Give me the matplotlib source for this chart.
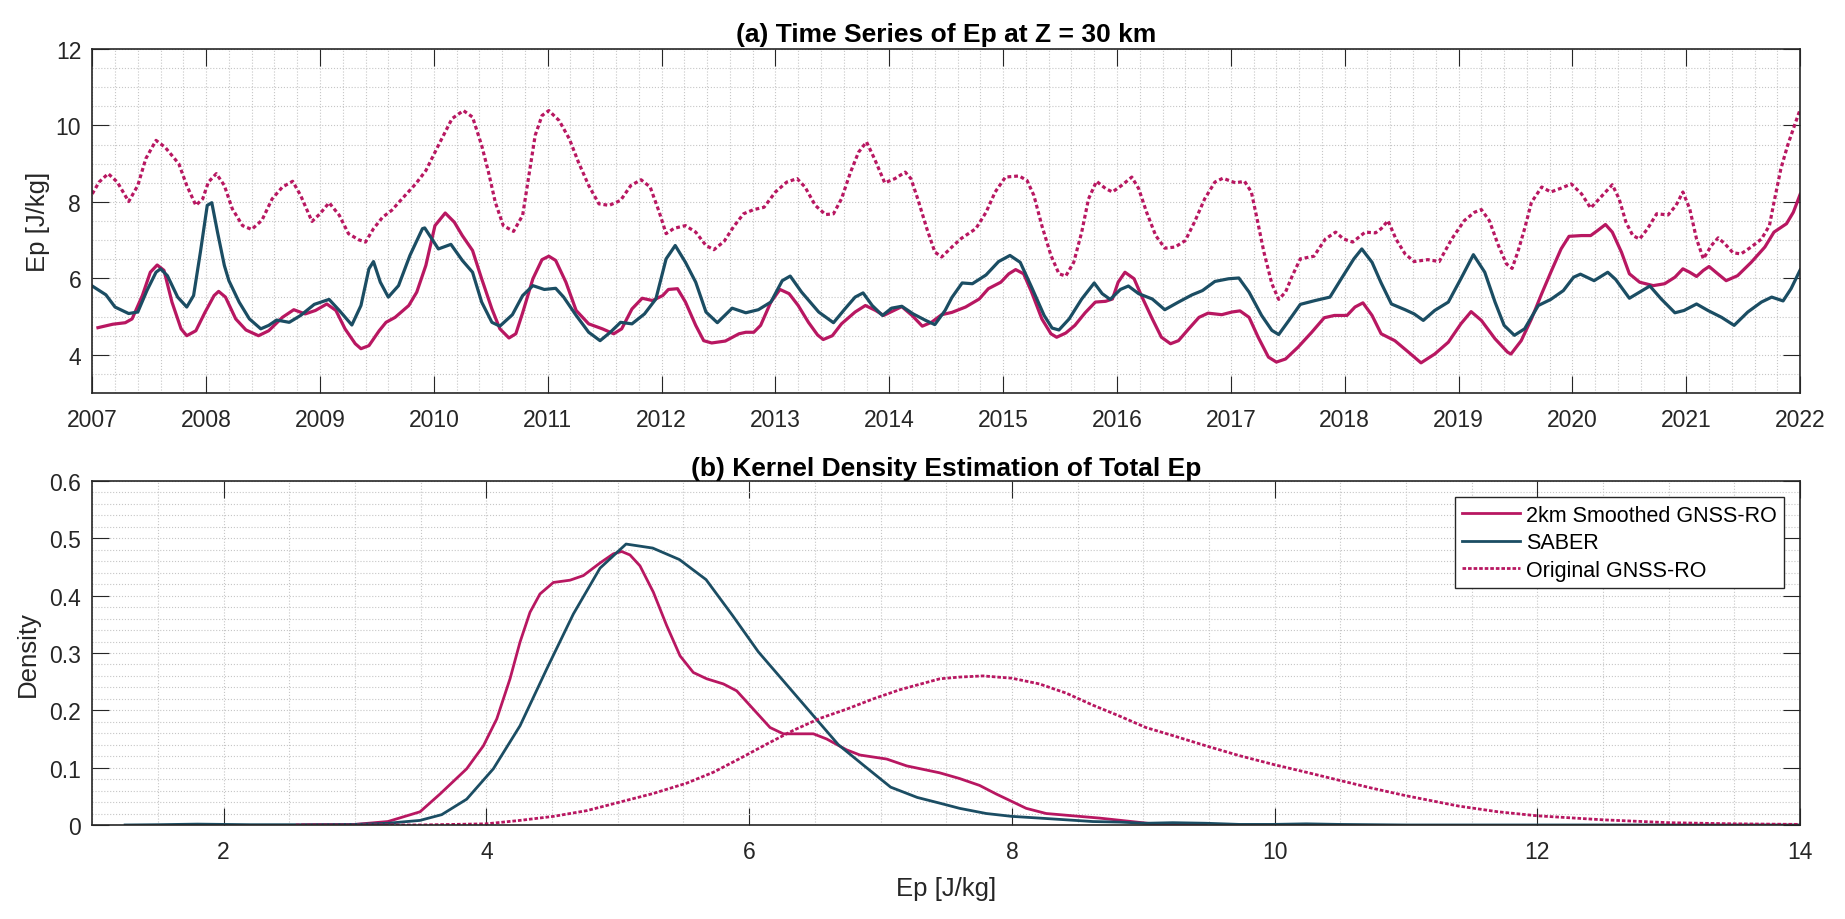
import matplotlib
matplotlib.use('Agg')
import matplotlib.pyplot as plt
from matplotlib.ticker import MultipleLocator, FuncFormatter

plt.rcParams['font.family'] = ['Liberation Sans', 'DejaVu Sans']

# (a) time series at Z = 30 km, decimal years
smooth_t = [2007.05, 2007.18, 2007.29, 2007.35, 2007.44, 2007.51, 2007.57, 2007.63, 2007.70, 2007.78,
            2007.83, 2007.91, 2007.99, 2008.07, 2008.11, 2008.17, 2008.26, 2008.35, 2008.46, 2008.55,
            2008.67, 2008.77, 2008.87, 2008.96, 2009.06, 2009.14, 2009.22, 2009.31, 2009.36, 2009.43,
            2009.52, 2009.58, 2009.66, 2009.78, 2009.85, 2009.93, 2010.01, 2010.10, 2010.18, 2010.25,
            2010.34, 2010.42, 2010.51, 2010.58, 2010.66, 2010.72, 2010.78, 2010.87, 2010.95, 2011.01,
            2011.07, 2011.16, 2011.25, 2011.36, 2011.48, 2011.58, 2011.65, 2011.74, 2011.83, 2011.92,
            2012.01, 2012.06, 2012.14, 2012.21, 2012.30, 2012.37, 2012.44, 2012.56, 2012.68, 2012.74,
            2012.81, 2012.87, 2012.96, 2013.04, 2013.12, 2013.20, 2013.29, 2013.37, 2013.42, 2013.50,
            2013.58, 2013.70, 2013.79, 2013.88, 2013.95, 2014.02, 2014.11, 2014.20, 2014.29, 2014.37,
            2014.46, 2014.55, 2014.67, 2014.79, 2014.87, 2014.98, 2015.05, 2015.11, 2015.18, 2015.25,
            2015.34, 2015.42, 2015.47, 2015.55, 2015.63, 2015.72, 2015.81, 2015.90, 2015.96, 2016.01,
            2016.07, 2016.15, 2016.22, 2016.31, 2016.39, 2016.47, 2016.54, 2016.63, 2016.72, 2016.80,
            2016.92, 2017.01, 2017.08, 2017.16, 2017.24, 2017.33, 2017.40, 2017.48, 2017.59, 2017.71,
            2017.82, 2017.91, 2018.02, 2018.09, 2018.16, 2018.24, 2018.32, 2018.44, 2018.56, 2018.67,
            2018.79, 2018.91, 2019.02, 2019.11, 2019.20, 2019.32, 2019.43, 2019.46, 2019.55, 2019.64,
            2019.73, 2019.81, 2019.90, 2019.97, 2020.08, 2020.16, 2020.22, 2020.29, 2020.35, 2020.43,
            2020.50, 2020.59, 2020.71, 2020.81, 2020.90, 2020.97, 2021.03, 2021.09, 2021.15, 2021.20,
            2021.26, 2021.35, 2021.45, 2021.57, 2021.69, 2021.77, 2021.88, 2021.94, 2022.00]
smooth_ep = [4.71, 4.80, 4.84, 4.94, 5.55, 6.16, 6.35, 6.21, 5.38, 4.68,
             4.50, 4.63, 5.11, 5.55, 5.66, 5.51, 4.94, 4.65, 4.50, 4.63,
             4.98, 5.18, 5.07, 5.16, 5.33, 5.16, 4.68, 4.29, 4.16, 4.24,
             4.63, 4.85, 4.98, 5.29, 5.64, 6.34, 7.38, 7.71, 7.47, 7.12,
             6.73, 5.99, 5.20, 4.68, 4.44, 4.55, 5.10, 5.99, 6.49, 6.58,
             6.47, 5.90, 5.16, 4.81, 4.68, 4.55, 4.68, 5.20, 5.48, 5.42,
             5.55, 5.71, 5.73, 5.38, 4.77, 4.37, 4.31, 4.36, 4.55, 4.59,
             4.59, 4.77, 5.38, 5.71, 5.60, 5.29, 4.85, 4.52, 4.40, 4.50,
             4.81, 5.12, 5.29, 5.16, 5.03, 5.13, 5.26, 5.03, 4.75, 4.85,
             5.05, 5.11, 5.25, 5.46, 5.73, 5.90, 6.12, 6.23, 6.12, 5.64,
             4.94, 4.55, 4.46, 4.57, 4.77, 5.10, 5.38, 5.40, 5.46, 5.90,
             6.16, 5.99, 5.51, 4.94, 4.46, 4.29, 4.37, 4.68, 4.98, 5.09,
             5.05, 5.12, 5.15, 4.98, 4.46, 3.94, 3.81, 3.89, 4.20, 4.59,
             4.97, 5.03, 5.03, 5.25, 5.36, 5.03, 4.55, 4.37, 4.07, 3.79,
             4.02, 4.33, 4.81, 5.13, 4.90, 4.42, 4.07, 4.02, 4.37, 4.94,
             5.60, 6.16, 6.77, 7.10, 7.12, 7.12, 7.25, 7.41, 7.21, 6.69,
             6.12, 5.90, 5.81, 5.86, 6.03, 6.25, 6.16, 6.05, 6.21, 6.31,
             6.16, 5.94, 6.07, 6.42, 6.82, 7.21, 7.43, 7.73, 8.20]

saber_t = [2007.00, 2007.12, 2007.20, 2007.32, 2007.40, 2007.48, 2007.56, 2007.60, 2007.66, 2007.75,
           2007.83, 2007.89, 2007.95, 2008.01, 2008.05, 2008.10, 2008.16, 2008.20, 2008.29, 2008.38,
           2008.48, 2008.55, 2008.62, 2008.73, 2008.83, 2008.95, 2009.08, 2009.17, 2009.28, 2009.36,
           2009.43, 2009.47, 2009.53, 2009.60, 2009.69, 2009.79, 2009.90, 2009.92, 2010.04, 2010.15,
           2010.25, 2010.34, 2010.42, 2010.51, 2010.58, 2010.69, 2010.78, 2010.87, 2010.97, 2011.07,
           2011.14, 2011.25, 2011.36, 2011.46, 2011.55, 2011.64, 2011.74, 2011.85, 2011.95, 2012.04,
           2012.12, 2012.21, 2012.30, 2012.39, 2012.49, 2012.62, 2012.74, 2012.85, 2012.96, 2013.06,
           2013.13, 2013.23, 2013.38, 2013.51, 2013.61, 2013.70, 2013.77, 2013.85, 2013.94, 2014.02,
           2014.11, 2014.21, 2014.32, 2014.40, 2014.49, 2014.55, 2014.64, 2014.73, 2014.85, 2014.96,
           2015.06, 2015.15, 2015.25, 2015.36, 2015.43, 2015.49, 2015.58, 2015.69, 2015.80, 2015.87,
           2015.94, 2016.03, 2016.10, 2016.19, 2016.31, 2016.42, 2016.54, 2016.66, 2016.75, 2016.86,
           2016.98, 2017.07, 2017.16, 2017.27, 2017.36, 2017.42, 2017.51, 2017.61, 2017.74, 2017.87,
           2017.97, 2018.08, 2018.15, 2018.24, 2018.32, 2018.41, 2018.53, 2018.61, 2018.69, 2018.79,
           2018.91, 2019.02, 2019.13, 2019.23, 2019.32, 2019.40, 2019.49, 2019.58, 2019.70, 2019.81,
           2019.92, 2020.01, 2020.07, 2020.19, 2020.31, 2020.38, 2020.50, 2020.59, 2020.68, 2020.78,
           2020.90, 2020.98, 2021.09, 2021.19, 2021.31, 2021.42, 2021.54, 2021.66, 2021.75, 2021.85,
           2021.92, 2022.00]
saber_ep = [5.80, 5.57, 5.25, 5.08, 5.12, 5.68, 6.16, 6.25, 6.07, 5.51,
            5.25, 5.55, 6.69, 7.91, 7.98, 7.21, 6.34, 5.94, 5.38, 4.94,
            4.68, 4.77, 4.91, 4.85, 5.03, 5.32, 5.45, 5.16, 4.78, 5.29,
            6.25, 6.44, 5.90, 5.51, 5.81, 6.60, 7.30, 7.32, 6.77, 6.89,
            6.47, 6.16, 5.38, 4.85, 4.75, 5.05, 5.55, 5.81, 5.71, 5.74,
            5.51, 5.03, 4.59, 4.37, 4.59, 4.85, 4.81, 5.07, 5.46, 6.51,
            6.86, 6.42, 5.90, 5.12, 4.84, 5.22, 5.10, 5.18, 5.38, 5.94,
            6.06, 5.64, 5.12, 4.84, 5.20, 5.51, 5.62, 5.29, 5.03, 5.22,
            5.27, 5.07, 4.90, 4.79, 5.16, 5.50, 5.88, 5.86, 6.09, 6.44,
            6.60, 6.42, 5.77, 5.03, 4.70, 4.65, 4.94, 5.46, 5.88, 5.60,
            5.45, 5.71, 5.80, 5.60, 5.46, 5.18, 5.38, 5.57, 5.68, 5.92,
            5.99, 6.01, 5.64, 5.03, 4.64, 4.53, 4.90, 5.32, 5.42, 5.51,
            5.99, 6.51, 6.77, 6.42, 5.88, 5.33, 5.18, 5.07, 4.90, 5.16,
            5.38, 5.99, 6.62, 6.16, 5.38, 4.77, 4.51, 4.68, 5.29, 5.45,
            5.68, 6.03, 6.11, 5.94, 6.16, 5.97, 5.48, 5.64, 5.80, 5.46,
            5.10, 5.16, 5.33, 5.16, 4.98, 4.77, 5.12, 5.38, 5.51, 5.41,
            5.73, 6.22]

orig_t = [2007.00, 2007.06, 2007.14, 2007.22, 2007.32, 2007.40, 2007.47, 2007.56, 2007.64, 2007.76,
          2007.83, 2007.91, 2007.97, 2008.02, 2008.09, 2008.16, 2008.23, 2008.32, 2008.40, 2008.49,
          2008.58, 2008.67, 2008.76, 2008.83, 2008.93, 2009.00, 2009.08, 2009.17, 2009.25, 2009.34,
          2009.40, 2009.47, 2009.55, 2009.63, 2009.72, 2009.84, 2009.93, 2010.04, 2010.16, 2010.26,
          2010.34, 2010.42, 2010.48, 2010.54, 2010.61, 2010.70, 2010.78, 2010.84, 2010.89, 2010.95,
          2011.01, 2011.10, 2011.19, 2011.27, 2011.36, 2011.45, 2011.54, 2011.64, 2011.73, 2011.82,
          2011.90, 2011.98, 2012.04, 2012.11, 2012.21, 2012.30, 2012.39, 2012.46, 2012.55, 2012.63,
          2012.72, 2012.81, 2012.90, 2013.00, 2013.10, 2013.19, 2013.26, 2013.35, 2013.44, 2013.51,
          2013.58, 2013.66, 2013.73, 2013.80, 2013.87, 2013.96, 2014.05, 2014.14, 2014.19, 2014.25,
          2014.33, 2014.40, 2014.46, 2014.55, 2014.63, 2014.76, 2014.85, 2014.93, 2015.02, 2015.14,
          2015.21, 2015.27, 2015.34, 2015.42, 2015.49, 2015.55, 2015.62, 2015.69, 2015.75, 2015.82,
          2015.90, 2015.96, 2016.04, 2016.13, 2016.19, 2016.26, 2016.34, 2016.42, 2016.51, 2016.60,
          2016.68, 2016.77, 2016.86, 2016.93, 2017.04, 2017.12, 2017.18, 2017.23, 2017.29, 2017.36,
          2017.42, 2017.48, 2017.54, 2017.61, 2017.73, 2017.83, 2017.92, 2017.99, 2018.07, 2018.18,
          2018.27, 2018.32, 2018.38, 2018.45, 2018.53, 2018.61, 2018.73, 2018.83, 2018.94, 2019.05,
          2019.14, 2019.20, 2019.27, 2019.35, 2019.42, 2019.47, 2019.52, 2019.58, 2019.64, 2019.73,
          2019.81, 2019.90, 2019.99, 2020.08, 2020.16, 2020.25, 2020.35, 2020.41, 2020.47, 2020.53,
          2020.59, 2020.66, 2020.74, 2020.84, 2020.91, 2020.97, 2021.03, 2021.09, 2021.15, 2021.22,
          2021.28, 2021.34, 2021.41, 2021.48, 2021.57, 2021.66, 2021.73, 2021.77, 2021.83, 2021.89,
          2021.95, 2022.00]
orig_ep = [8.21, 8.52, 8.74, 8.52, 8.01, 8.43, 9.13, 9.61, 9.43, 9.00,
           8.43, 7.91, 8.08, 8.52, 8.74, 8.43, 7.82, 7.38, 7.28, 7.52,
           8.08, 8.39, 8.54, 8.17, 7.49, 7.69, 7.98, 7.65, 7.17, 7.01,
           6.95, 7.30, 7.60, 7.78, 8.08, 8.47, 8.82, 9.48, 10.18, 10.39,
           10.22, 9.48, 8.78, 7.99, 7.38, 7.23, 7.65, 8.78, 9.74, 10.26,
           10.39, 10.13, 9.65, 9.04, 8.43, 7.95, 7.91, 8.04, 8.43, 8.58,
           8.39, 7.73, 7.17, 7.31, 7.38, 7.21, 6.86, 6.75, 6.97, 7.34,
           7.69, 7.80, 7.86, 8.26, 8.52, 8.61, 8.39, 7.91, 7.67, 7.69,
           8.08, 8.78, 9.30, 9.57, 9.13, 8.50, 8.61, 8.78, 8.61, 8.08,
           7.30, 6.69, 6.56, 6.82, 7.04, 7.30, 7.73, 8.26, 8.65, 8.68,
           8.56, 8.17, 7.38, 6.60, 6.12, 6.06, 6.42, 7.21, 8.08, 8.54,
           8.35, 8.26, 8.43, 8.65, 8.35, 7.73, 7.12, 6.79, 6.82, 6.99,
           7.47, 8.08, 8.52, 8.62, 8.50, 8.54, 8.26, 7.56, 6.69, 5.86,
           5.45, 5.64, 6.07, 6.51, 6.58, 7.03, 7.21, 7.03, 6.95, 7.21,
           7.19, 7.30, 7.51, 7.03, 6.64, 6.44, 6.49, 6.44, 7.03, 7.51,
           7.73, 7.80, 7.51, 6.86, 6.38, 6.26, 6.69, 7.30, 7.99, 8.39,
           8.26, 8.36, 8.47, 8.21, 7.84, 8.13, 8.45, 8.08, 7.47, 7.12,
           7.03, 7.30, 7.69, 7.66, 7.91, 8.26, 7.82, 7.03, 6.51, 6.86,
           7.06, 6.90, 6.67, 6.64, 6.82, 7.03, 7.38, 7.99, 8.86, 9.48,
           10.00, 10.42]

# (b) kernel density estimates
kde_smooth_x = [2.6, 3.0, 3.25, 3.495, 3.647, 3.85, 3.977, 4.079, 4.18, 4.256,
                4.332, 4.408, 4.51, 4.637, 4.738, 4.865, 4.967, 5.03, 5.093, 5.169,
                5.271, 5.372, 5.474, 5.575, 5.677, 5.804, 5.905, 6.032, 6.159, 6.26,
                6.387, 6.489, 6.59, 6.742, 6.844, 7.047, 7.2, 7.45, 7.602, 7.754,
                7.881, 8.0, 8.109, 8.261, 8.464, 8.667, 8.87, 9.072, 9.275, 9.478]
kde_smooth_y = [0.0, 0.001, 0.006, 0.023, 0.054, 0.098, 0.138, 0.185, 0.255, 0.319,
                0.371, 0.403, 0.423, 0.427, 0.435, 0.457, 0.473, 0.477, 0.471, 0.452,
                0.406, 0.348, 0.295, 0.266, 0.255, 0.246, 0.234, 0.202, 0.170, 0.159,
                0.159, 0.159, 0.150, 0.131, 0.122, 0.115, 0.103, 0.091, 0.081, 0.069,
                0.054, 0.041, 0.029, 0.020, 0.016, 0.012, 0.007, 0.002, 0.0, 0.0]

kde_saber_x = [1.25, 1.5, 1.8, 2.2, 2.6, 3.0, 3.25, 3.495, 3.66, 3.85,
               4.053, 4.256, 4.459, 4.662, 4.865, 5.063, 5.266, 5.469, 5.672, 5.875,
               6.07, 6.273, 6.476, 6.679, 6.877, 7.077, 7.28, 7.452, 7.602, 7.805,
               8.0, 8.21, 8.413, 8.616, 8.819, 9.02, 9.224, 9.478, 9.73, 9.985,
               10.24, 10.49, 11.0, 12.0, 13.0, 14.0]
kde_saber_y = [0.0, 0.0005, 0.0015, 0.0005, 0.0005, 0.001, 0.003, 0.008, 0.018, 0.045,
               0.098, 0.173, 0.272, 0.368, 0.448, 0.490, 0.483, 0.463, 0.428, 0.365,
               0.302, 0.248, 0.194, 0.140, 0.103, 0.066, 0.048, 0.038, 0.029, 0.020,
               0.015, 0.012, 0.009, 0.006, 0.005, 0.003, 0.004, 0.003, 0.001, 0.001,
               0.002, 0.001, 0.0, 0.0, 0.0, 0.0]

kde_orig_x = [2.55, 3.0, 3.495, 4.0, 4.256, 4.51, 4.764, 5.017, 5.271, 5.525,
              5.728, 5.93, 6.133, 6.336, 6.539, 6.742, 6.945, 7.148, 7.452, 7.602,
              7.78, 8.0, 8.21, 8.413, 8.616, 8.819, 9.02, 9.224, 9.478, 9.73,
              10.0, 10.24, 10.49, 10.745, 11.0, 11.4, 11.7, 12.0, 12.5, 13.0,
              13.5, 14.0]
kde_orig_y = [0.0, 0.0, 0.0, 0.002, 0.008, 0.015, 0.025, 0.040, 0.055, 0.073,
              0.092, 0.116, 0.141, 0.165, 0.186, 0.202, 0.220, 0.236, 0.255, 0.258,
              0.260, 0.256, 0.246, 0.230, 0.209, 0.190, 0.170, 0.156, 0.138, 0.121,
              0.105, 0.092, 0.078, 0.064, 0.051, 0.033, 0.023, 0.016, 0.009, 0.004,
              0.002, 0.001]

labels = ['2km Smoothed GNSS-RO', 'SABER', 'Original GNSS-RO']
c_ro = '#B81761'
c_saber = '#1B4D63'
c_axis = '#262626'


def style_axes(ax):
    ax.tick_params(which='major', direction='in', length=12, width=0.8, top=True, right=True,
                   labelsize=16.5, colors=c_axis, pad=8)
    ax.tick_params(which='minor', length=0, top=True, right=True)
    ax.tick_params(axis='x', which='major', pad=11)
    ax.grid(True, which='both', linestyle=':', color='#c6c6c6', linewidth=0.8)
    ax.set_axisbelow(True)
    for s in ax.spines.values():
        s.set_color(c_axis)
        s.set_linewidth(1.2)


fig = plt.figure(figsize=(18.45, 9.2), dpi=100)
ax1 = fig.add_axes([0.05, 0.5717, 0.9257, 0.3739])
ax2 = fig.add_axes([0.05, 0.1022, 0.9257, 0.3739])

ax1.plot(smooth_t, smooth_ep, color=c_ro, lw=2.3)
ax1.plot(saber_t, saber_ep, color=c_saber, lw=2.3)
ax1.plot(orig_t, orig_ep, color=c_ro, lw=2.3, linestyle=(0, (1.2, 0.9)))
ax1.set_xlim(2007, 2022)
ax1.set_ylim(3, 12)
ax1.set_xticks(range(2007, 2023))
ax1.set_yticks([4, 6, 8, 10, 12])
ax1.xaxis.set_minor_locator(MultipleLocator(0.2))
ax1.yaxis.set_minor_locator(MultipleLocator(0.5))
style_axes(ax1)
ax1.set_ylabel('Ep [J/kg]', fontsize=18.5, color=c_axis)
ax1.yaxis.set_label_coords(-0.0246, 0.5)
ax1.set_title('(a) Time Series of Ep at Z = 30 km', fontsize=19, fontweight='bold', pad=6)

ax2.plot(kde_smooth_x, kde_smooth_y, color=c_ro, lw=2.0, label=labels[0])
ax2.plot(kde_saber_x, kde_saber_y, color=c_saber, lw=2.0, label=labels[1])
ax2.plot(kde_orig_x, kde_orig_y, color=c_ro, lw=2.0, linestyle=(0, (1.3, 0.7)), label=labels[2])
ax2.set_xlim(1, 14)
ax2.set_ylim(0, 0.6)
ax2.set_xticks([2, 4, 6, 8, 10, 12, 14])
ax2.set_yticks([0, 0.1, 0.2, 0.3, 0.4, 0.5, 0.6])
ax2.yaxis.set_major_formatter(FuncFormatter(lambda v, p: '0' if v == 0 else '%g' % v))
ax2.xaxis.set_minor_locator(MultipleLocator(0.5))
ax2.yaxis.set_minor_locator(MultipleLocator(0.02))
style_axes(ax2)
ax2.set_ylabel('Density', fontsize=18.5, color=c_axis)
ax2.yaxis.set_label_coords(-0.0304, 0.5)
ax2.set_xlabel('Ep [J/kg]', fontsize=18.5, color=c_axis, va='top')
ax2.xaxis.set_label_coords(0.5, -0.148)
ax2.set_title('(b) Kernel Density Estimation of Total Ep', fontsize=19, fontweight='bold', pad=4)

leg = ax2.legend(loc='upper right', fontsize=15.5, frameon=True, fancybox=False, framealpha=1,
                 edgecolor=c_axis, handlelength=2.7, handletextpad=0.25, labelspacing=0.3,
                 borderaxespad=0.75, borderpad=0.35)
leg.get_frame().set_linewidth(1.0)

fig.savefig('out.png', dpi=100)
